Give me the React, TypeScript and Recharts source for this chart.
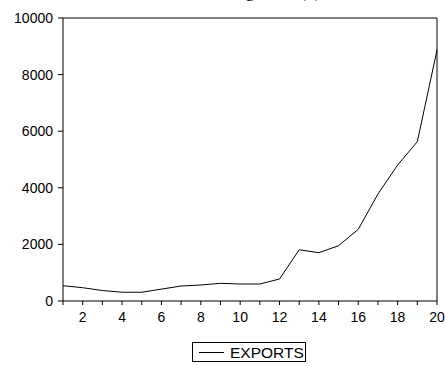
import React from 'react';
import { LineChart, Line, XAxis, YAxis, ReferenceLine, Legend, Customized } from 'recharts';

const periods = [1, 2, 3, 4, 5, 6, 7, 8, 9, 10, 11, 12, 13, 14, 15, 16, 17, 18, 19, 20];
const exportsValues = [540, 470, 370, 310, 310, 420, 530, 565, 625, 600, 600, 777, 1810, 1707, 1954, 2533, 3781, 4806, 5630, 8870];
const yTicks = [0, 2000, 4000, 6000, 8000, 10000];
const xTicks = periods;
const seriesName = 'EXPORTS';
const titleText = 'Chart Showing Total (1)';

const data = periods.map((p, i) => ({ period: p, EXPORTS: exportsValues[i] }));

const FONT = '"Liberation Sans", Arial, sans-serif';

const LegendBox = () => (
  <div style={{ position: 'relative', width: 114, height: 20, boxSizing: 'border-box', border: '1px solid #000', background: '#fff' }}>
    <svg width={114} height={20} style={{ position: 'absolute', left: -1, top: -1, overflow: 'visible' }}>
      <line x1={7} x2={32} y1={10.5} y2={10.5} stroke="#000" strokeWidth={1} />
      <text x={38} y={16} fontFamily={FONT} fontSize={15.5} fill="#000">{seriesName}</text>
    </svg>
  </div>
);

const Title = () => (
  <text x={146} y={-3} textAnchor="start" fontFamily='"Liberation Serif", "Times New Roman", serif' fontSize={18} fill="#000">{titleText}</text>
);

export default function App() {
  return (
    <div style={{ position: 'absolute', left: 0, top: 0, width: 445, height: 366, background: '#fff' }}>
      <LineChart width={445} height={366} data={data} margin={{ top: 18, right: 8, left: 0, bottom: 15 }}>
        <XAxis
          dataKey="period"
          type="number"
          domain={[1, 20]}
          ticks={xTicks}
          interval={0}
          tickFormatter={(v: number) => (v % 2 === 0 ? String(v) : '')}
          tickSize={4}
          tickMargin={7}
          height={30}
          stroke="#000"
          tick={{ fill: '#000', fontSize: 14, fontFamily: FONT }}
        />
        <YAxis
          type="number"
          domain={[0, 10000]}
          ticks={yTicks}
          interval={0}
          width={63}
          tickSize={5}
          tickMargin={5}
          stroke="#000"
          tick={{ fill: '#000', fontSize: 14, fontFamily: FONT }}
        />
        <ReferenceLine y={10000} stroke="#000" strokeWidth={1} ifOverflow="visible" />
        <ReferenceLine x={20} stroke="#000" strokeWidth={1} ifOverflow="visible" />
        <Line dataKey="EXPORTS" stroke="#000" strokeWidth={1} dot={false} isAnimationActive={false} />
        <Legend
          verticalAlign="bottom"
          content={() => <LegendBox />}
          wrapperStyle={{ left: 192, width: 114, height: 20, bottom: 4 }}
        />
        <Customized component={Title} />
      </LineChart>
    </div>
  );
}
